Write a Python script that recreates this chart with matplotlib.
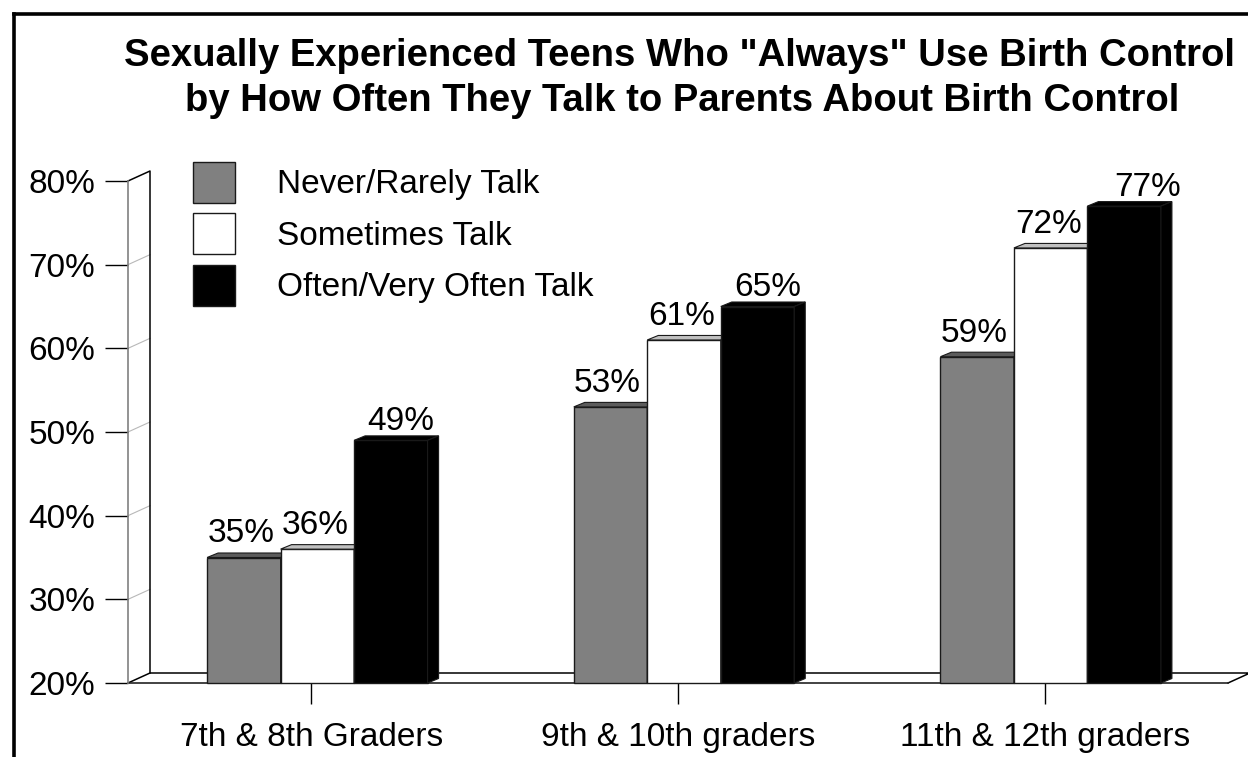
import matplotlib
matplotlib.use("Agg")
import matplotlib.pyplot as plt
from matplotlib.patches import Polygon
from matplotlib.lines import Line2D

plt.rcParams["font.family"] = ["Liberation Sans", "DejaVu Sans"]

title_1 = 'Sexually Experienced Teens Who "Always" Use Birth Control'
title_2 = "by How Often They Talk to Parents About Birth Control"
categories = ["7th & 8th Graders", "9th & 10th graders", "11th & 12th graders"]
series_names = ["Never/Rarely Talk", "Sometimes Talk", "Often/Very Often Talk"]
never_talk = [35, 53, 59]
sometimes_talk = [36, 61, 72]
often_talk = [49, 65, 77]
y_ticks = [20, 30, 40, 50, 60, 70, 80]

W, H = 1248, 757
FS = 24
fig = plt.figure(figsize=(W / 100, H / 100), dpi=100)


def fx(px):
    return px / W


def fy(py):
    return 1 - py / H


ax = fig.add_axes([fx(128), fy(683), (1228 - 128) / W, (683 - 181) / H])
ax.set_xlim(0, 3)
ax.set_ylim(20, 80)

# pixel -> data conversions for the fake 3d depth
p0 = ax.transData.transform((0, 20))
p1 = ax.transData.transform((1, 30))
ppx = p1[0] - p0[0]
ppy = (p1[1] - p0[1]) / 10.0


def ux(px):
    return px / ppx


def uy(px):
    return px / ppy


wall_dx, wall_dy = ux(22), uy(10)
bar_dx, bar_dy = ux(11), uy(4.5)
bar_w = ux(73.5)
shift = ux(6)

# left wall + floor
ax.add_patch(Polygon([(0, 20), (wall_dx, 20 + wall_dy), (wall_dx, 80 + wall_dy), (0, 80)],
                     closed=True, facecolor="white", edgecolor="none", zorder=0, clip_on=False))
for t in y_ticks[1:-1]:
    ax.plot([0, wall_dx], [t, t + wall_dy], color="#b8b8b8", lw=0.8, zorder=1, clip_on=False)
ax.plot([0, wall_dx, wall_dx], [80, 80 + wall_dy, 20 + wall_dy], color="black", lw=1.1, zorder=1, clip_on=False)
ax.plot([0, wall_dx, 3 + wall_dx, 3], [20, 20 + wall_dy, 20 + wall_dy, 20],
        color="black", lw=1.1, zorder=1, clip_on=False)

series = [never_talk, sometimes_talk, often_talk]
front_colors = ["#808080", "white", "black"]
top_colors = ["#5c5c5c", "#c0c0c0", "black"]
side_colors = ["#5c5c5c", "#c0c0c0", "black"]
# label nudges in pixels (x, y above the bar top)
label_dx = [-3, -2, 10]
label_dy = [15, 15, 10]
top_value = max(max(s) for s in series)

for j, vals in enumerate(series):
    xs = [i + 0.5 - 1.5 * bar_w + j * bar_w + shift for i in range(len(categories))]
    ax.bar(xs, [v - 20 for v in vals], bottom=20, width=bar_w, align="edge",
           color=front_colors[j], edgecolor="#1a1a1a", linewidth=1, zorder=3 + j,
           label=series_names[j], clip_on=False)
    for x, v in zip(xs, vals):
        ax.add_patch(Polygon([(x, v), (x + bar_w, v), (x + bar_w + bar_dx, v + bar_dy), (x + bar_dx, v + bar_dy)],
                             closed=True, facecolor=top_colors[j], edgecolor="#1a1a1a", lw=0.8,
                             zorder=3 + j, clip_on=False))
        ax.add_patch(Polygon([(x + bar_w, 20), (x + bar_w + bar_dx, 20 + bar_dy), (x + bar_w + bar_dx, v + bar_dy),
                              (x + bar_w, v)],
                             closed=True, facecolor=side_colors[j], edgecolor="#1a1a1a", lw=0.8,
                             zorder=3 + j, clip_on=False))
        ndx = label_dx[j] + (13 if v == top_value else 0)
        ax.annotate(f"{v}%", (x + bar_w / 2, v), xytext=(ndx * 0.72, label_dy[j] * 0.72),
                    textcoords="offset points", ha="center", va="baseline", fontsize=FS, zorder=10)

# axes
for s in ["top", "right"]:
    ax.spines[s].set_visible(False)
ax.spines["left"].set_color("#808080")
ax.spines["left"].set_linewidth(1.2)
ax.spines["bottom"].set_color("#222222")
ax.spines["bottom"].set_linewidth(1.2)
ax.spines["bottom"].set_zorder(2)

ax.set_yticks(y_ticks)
ax.set_yticklabels([f"{t}%" for t in y_ticks])
ax.set_xticks([0.5, 1.5, 2.5])
ax.set_xticklabels(categories)
ax.tick_params(axis="y", length=16.5, width=1, color="black", pad=7, labelsize=FS)
ax.tick_params(axis="x", length=15, width=1, color="black", pad=13, labelsize=FS)
ax.set_facecolor("none")

fs_px = FS * 100 / 72
ax.legend(loc="upper left", bbox_to_anchor=(fx(193), fy(162)), bbox_transform=fig.transFigure,
          frameon=False, borderpad=0, borderaxespad=0, fontsize=FS,
          handlelength=42 / fs_px, handleheight=1.515, handletextpad=42 / fs_px,
          labelspacing=10.5 / fs_px)

fig.text(fx(680), fy(56), title_1, ha="center", va="center", fontsize=27.5, fontweight="bold")
fig.text(fx(682), fy(101), title_2, ha="center", va="center", fontsize=27.5, fontweight="bold")

# outer frame (open to the right and bottom)
fig.add_artist(Line2D([fx(13.5), fx(13.5)], [fy(H + 5), fy(13.5)], transform=fig.transFigure,
                      color="black", lw=2.6, solid_capstyle="projecting"))
fig.add_artist(Line2D([fx(13.5), fx(W + 5)], [fy(13.5), fy(13.5)], transform=fig.transFigure,
                      color="black", lw=2.6, solid_capstyle="projecting"))

fig.savefig("out.png", dpi=100)
